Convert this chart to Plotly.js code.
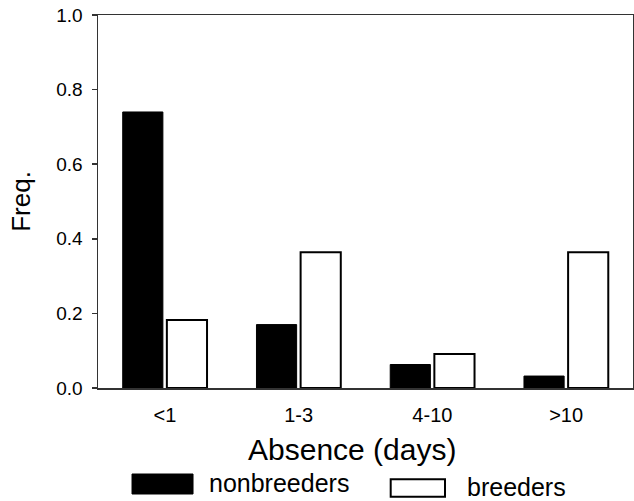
<!DOCTYPE html>
<html>
<head>
<meta charset="utf-8">
<script src="https://cdn.plot.ly/plotly-3.0.1.min.js"></script>
<style>html,body{margin:0;padding:0;background:#fff;}#chart{width:634px;height:501px;}</style>
</head>
<body>
<div id="chart"></div>
<script>
const categories = ["<1", "1-3", "4-10", ">10"];
const nonbreeders = [0.74, 0.17, 0.063, 0.032];
const breeders = [0.182, 0.364, 0.091, 0.364];
const seriesNames = ["nonbreeders", "breeders"];
const yTicks = [0, 0.2, 0.4, 0.6, 0.8, 1.0];
const yTickText = ["0.0", "0.2", "0.4", "0.6", "0.8", "1.0"];
const xTitle = "Absence (days)";
const yTitle = "Freq.";

const FONT = "Liberation Sans, Arial, sans-serif";

const traces = [
  {type: "bar", name: seriesNames[0], x: categories, y: nonbreeders,
   marker: {color: "#000000", line: {color: "#000000", width: 1}}, showlegend: false, hoverinfo: "none"},
  {type: "bar", name: seriesNames[1], x: categories, y: breeders,
   marker: {color: "#ffffff", line: {color: "#000000", width: 2}}, showlegend: false, hoverinfo: "none"}
];

const layout = {
  width: 634, height: 501,
  margin: {l: 98, r: 1, t: 15, b: 113},
  paper_bgcolor: "#ffffff", plot_bgcolor: "#ffffff",
  font: {family: FONT, color: "#000000"},
  barmode: "group", bargap: 0.34, bargroupgap: 0.09,
  xaxis: {
    type: "category", range: [-0.5, 3.5],
    showline: true, mirror: true, linecolor: "#333333", linewidth: 1.5,
    ticks: "", showgrid: false, zeroline: false,
    tickfont: {family: FONT, size: 20, color: "#000"},
    ticklabelstandoff: 8
  },
  yaxis: {
    range: [0, 1.0], tickvals: yTicks, ticktext: yTickText,
    showline: true, mirror: true, linecolor: "#333333", linewidth: 1.5,
    ticks: "outside", ticklen: 5, tickwidth: 1.5, tickcolor: "#333333",
    showgrid: false, zeroline: false,
    tickfont: {family: FONT, size: 19, color: "#000"},
    ticklabelstandoff: 5,
    title: {text: yTitle, font: {family: FONT, size: 26, color: "#000"}, standoff: 18}
  },
  shapes: [
    {type: "rect", xref: "paper", yref: "paper", x0: 0.0636, x1: 0.1776, y0: -0.2842, y1: -0.2306,
     fillcolor: "#000", line: {color: "#000", width: 1}},
    {type: "rect", xref: "paper", yref: "paper", x0: 0.5471, x1: 0.6486, y0: -0.2914, y1: -0.2448,
     fillcolor: "#fff", line: {color: "#000", width: 2}}
  ],
  annotations: [
    {xref: "paper", yref: "paper", x: 0.4748, y: -0.1662, xanchor: "center", yanchor: "middle",
     text: xTitle, showarrow: false, font: {family: FONT, size: 30, color: "#000"}},
    {xref: "paper", yref: "paper", x: 0.2037, y: -0.2560, xanchor: "left", yanchor: "middle",
     text: seriesNames[0], showarrow: false, font: {family: FONT, size: 25, color: "#000"}},
    {xref: "paper", yref: "paper", x: 0.686, y: -0.2667, xanchor: "left", yanchor: "middle",
     text: seriesNames[1], showarrow: false, font: {family: FONT, size: 25, color: "#000"}}
  ]
};

Plotly.newPlot("chart", traces, layout, {staticPlot: true, displayModeBar: false});
</script>
</body>
</html>
